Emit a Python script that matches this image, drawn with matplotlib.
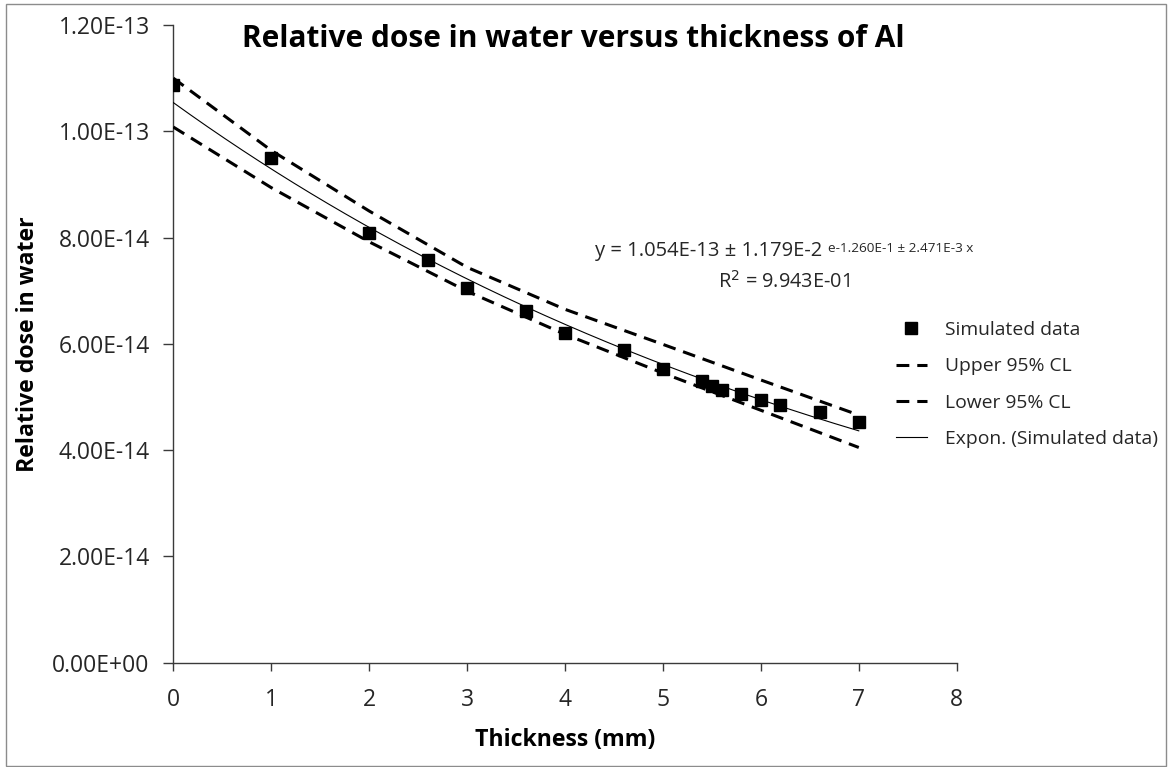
import numpy as np
import matplotlib
matplotlib.use("Agg")
import matplotlib.pyplot as plt
from matplotlib.patches import Rectangle

plt.rcParams['font.family'] = ['Open Sans', 'DejaVu Sans']

# Simulated dose in water behind aluminium absorbers
thickness_mm = [0.0, 1.0, 2.0, 2.6, 3.0, 3.6, 4.0, 4.6, 5.0, 5.4, 5.5, 5.6,
                5.8, 6.0, 6.2, 6.6, 7.0]
dose = [1.088e-13, 9.50e-14, 8.09e-14, 7.57e-14, 7.05e-14, 6.62e-14, 6.21e-14,
        5.88e-14, 5.52e-14, 5.30e-14, 5.21e-14, 5.14e-14, 5.05e-14, 4.94e-14,
        4.84e-14, 4.72e-14, 4.52e-14]

# 95% confidence limits of the exponential fit
cl_x = [0, 1, 2, 3, 4, 5, 6, 7]
upper_cl = [1.100e-13, 9.64e-14, 8.50e-14, 7.44e-14, 6.65e-14, 5.99e-14, 5.32e-14, 4.66e-14]
lower_cl = [1.008e-13, 8.94e-14, 7.92e-14, 6.99e-14, 6.18e-14, 5.45e-14, 4.75e-14, 4.05e-14]

# Exponential trend: y = A * exp(-B x)
fit_a = 1.054e-13
fit_b = 1.260e-1

x_ticks = [0, 1, 2, 3, 4, 5, 6, 7, 8]
y_ticks = [0.0, 2e-14, 4e-14, 6e-14, 8e-14, 1e-13, 1.2e-13]
y_tick_labels = ["0.00E+00", "2.00E-14", "4.00E-14", "6.00E-14", "8.00E-14",
                 "1.00E-13", "1.20E-13"]

W, H = 1172, 767
fig = plt.figure(figsize=(W / 100, H / 100), dpi=100)
ax = fig.add_axes([173.3 / W, 1 - 662.7 / H, (956.7 - 173.3) / W, (662.7 - 25) / H])

fx = np.linspace(0, 7, 200)
ax.plot(thickness_mm, dose, linestyle='none', marker='s', markersize=8.2,
        color='black', label='Simulated data', zorder=4)
ax.plot(cl_x, upper_cl, color='black', lw=2.2, dashes=(4.2, 2.6),
        label='Upper 95% CL', zorder=3)
ax.plot(cl_x, lower_cl, color='black', lw=2.2, dashes=(4.2, 2.6),
        label='Lower 95% CL', zorder=3)
ax.plot(fx, fit_a * np.exp(-fit_b * fx), color='black', lw=0.8,
        label='Expon. (Simulated data)', zorder=3)

ax.set_xlim(0, 8)
ax.set_ylim(0, 1.2e-13)
ax.set_xticks(x_ticks)
ax.set_xticklabels([str(t) for t in x_ticks])
ax.set_yticks(y_ticks)
ax.set_yticklabels(y_tick_labels)
for side in ('top', 'right'):
    ax.spines[side].set_visible(False)
for side in ('left', 'bottom'):
    ax.spines[side].set_color('#3a3a3a')
    ax.spines[side].set_linewidth(1.0)
ax.tick_params(axis='both', direction='out', colors='#3a3a3a', labelcolor='#262626',
               labelsize=16.5, width=1.0)
ax.tick_params(axis='y', length=7, pad=10)
ax.tick_params(axis='x', length=6, pad=12)

ax.set_xlabel('Thickness (mm)', fontsize=16.7, fontweight='bold', labelpad=12)
ax.set_ylabel('Relative dose in water', fontsize=16.7, fontweight='bold', labelpad=9)

fig.text(242 / W, 1 - 39 / H, 'Relative dose in water versus thickness of Al',
         ha='left', va='center', fontsize=21.5, fontweight='bold')

# Fit equation
fig.text(595 / W, 1 - 251 / H, 'y = 1.054E-13 \u00b1 1.179E-2', ha='left',
         va='center', fontsize=14.5, color='#262626')
fig.text(828 / W, 1 - 248 / H, 'e-1.260E-1 \u00b1 2.471E-3 x', ha='left',
         va='center', fontsize=9.7, color='#262626')
fig.text(784 / W, 1 - 282 / H, r'R$^{2}$ = 9.943E-01', ha='center',
         va='center', fontsize=14.3, color='#262626')

leg = ax.legend(loc='upper left', bbox_to_anchor=(896 / W, 1 - 321 / H),
                bbox_transform=fig.transFigure, frameon=False, fontsize=13.9,
                handlelength=1.6, handletextpad=0.95, labelspacing=0.95,
                borderaxespad=0, borderpad=0)
for t in leg.get_texts():
    t.set_color('#262626')

fig.patches.append(Rectangle((6 / W, 1 / H), 1160 / W, 762 / H,
                             transform=fig.transFigure, fill=False,
                             edgecolor='#8c8c8c', lw=1.0))

fig.savefig('out.png', dpi=100)
